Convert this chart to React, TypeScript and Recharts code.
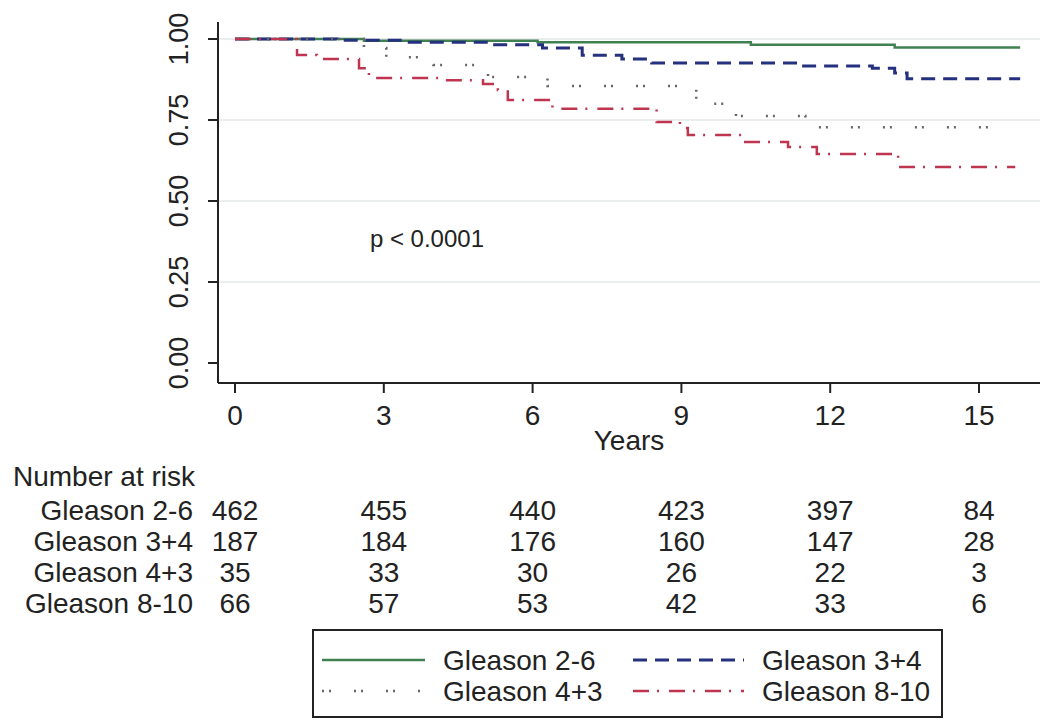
import React from 'react';
import {
  ComposedChart,
  Line,
  XAxis,
  YAxis,
  ReferenceLine,
  ReferenceDot,
  Legend,
  Label,
} from 'recharts';

const FONT = '"Liberation Sans", Arial, Helvetica, sans-serif';
const INK = '#222';
const FS = 28;

// axis ticks
const xTicks = [0, 3, 6, 9, 12, 15];
const yTicks = [0, 0.25, 0.5, 0.75, 1];
const gridY = [0.25, 0.5, 0.75, 1];

// Kaplan-Meier steps: [years, survival]
const gs26 = [
  [0, 1], [2.6, 0.995], [6.1, 0.99], [10.4, 0.982], [13.3, 0.974], [15.83, 0.974],
];
const gs34 = [
  [0, 1], [2.05, 0.996], [3.4, 0.99], [5.2, 0.982], [6.2, 0.972], [7.0, 0.95],
  [7.8, 0.938], [8.4, 0.926], [11.4, 0.917], [12.85, 0.91], [13.3, 0.895],
  [13.55, 0.877], [15.83, 0.877],
];
const gs43 = [
  [0, 1], [2.6, 0.972], [3.05, 0.944], [4.0, 0.92], [5.1, 0.883], [6.3, 0.855],
  [9.3, 0.8], [10.1, 0.762], [11.5, 0.728], [15.55, 0.728],
];
const gs810 = [
  [0, 1], [1.25, 0.951], [1.65, 0.938], [2.5, 0.91], [2.7, 0.88], [4.1, 0.873],
  [5.0, 0.861], [5.3, 0.843], [5.5, 0.812], [6.4, 0.785], [8.5, 0.744],
  [8.97, 0.725], [9.13, 0.704], [10.24, 0.682], [11.15, 0.667], [11.73, 0.645],
  [13.37, 0.605], [15.73, 0.605],
];

// number at risk at each x tick
const risk26 = [462, 455, 440, 423, 397, 84];
const risk34 = [187, 184, 176, 160, 147, 28];
const risk43 = [35, 33, 30, 26, 22, 3];
const risk810 = [66, 57, 53, 42, 33, 6];

const groupNames = ['Gleason 2-6', 'Gleason 3+4', 'Gleason 4+3', 'Gleason 8-10'];
const curves = [gs26, gs34, gs43, gs810];
const riskRows = [risk26, risk34, risk43, risk810];

const styles = [
  { color: '#3f8150', dash: undefined, width: 2.5 },
  { color: '#25307e', dash: '14 8', width: 3 },
  { color: '#666666', dash: '2 5 2 23', width: 2.5 },
  { color: '#bf3550', dash: '16 8 2 10', width: 2.5 },
];

const pText = 'p < 0.0001';
const pPos = [2.72, 0.358];

const X_DOMAIN = [-0.343, 16.23];
const Y_DOMAIN = [-0.0617, 1.0525];

const toPoints = (rows: number[][]) => rows.map(([t, s]) => ({ t, s }));

const YTick = (props: any) => {
  const { x, y, payload } = props;
  const bx = x - 20;
  return (
    <text
      x={bx}
      y={y}
      transform={`rotate(-90 ${bx} ${y})`}
      textAnchor="middle"
      fontSize={27}
      fontFamily={FONT}
      fill={INK}
    >
      {Number(payload.value).toFixed(2)}
    </text>
  );
};

const LegendBox = () => {
  const rowsY = [31, 62];
  const cols = [
    { x1: 10, x2: 113, tx: 131 },
    { x1: 321, x2: 432, tx: 450 },
  ];
  return (
    <svg width={631} height={89} style={{ display: 'block' }}>
      <rect x={1} y={1} width={629} height={87} fill="#fff" stroke={INK} strokeWidth={2} />
      {groupNames.map((name, i) => {
        const c = cols[i % 2];
        const y = rowsY[Math.floor(i / 2)];
        const st = styles[i];
        return (
          <g key={name}>
            <line
              x1={c.x1}
              x2={c.x2}
              y1={y}
              y2={y}
              stroke={st.color}
              strokeWidth={st.width}
              strokeDasharray={st.dash}
            />
            <text x={c.tx} y={y + 10} fontSize={FS} fontFamily={FONT} fill={INK}>
              {name}
            </text>
          </g>
        );
      })}
    </svg>
  );
};

export default function App() {
  return (
    <div style={{ position: 'absolute', left: 0, top: 0, background: '#fff' }}>
      <ComposedChart
        width={1050}
        height={725}
        margin={{ top: 22, right: 10, left: 0, bottom: 103 }}
      >
        {gridY.map((v) => (
          <ReferenceLine key={v} xAxisId="main" y={v} stroke="#e4e8e8" strokeWidth={1.5} />
        ))}

        <XAxis
          xAxisId="main"
          type="number"
          dataKey="t"
          domain={X_DOMAIN}
          ticks={xTicks}
          allowDataOverflow
          height={115}
          tickSize={10}
          tickMargin={12}
          axisLine={{ stroke: INK, strokeWidth: 2 }}
          tickLine={{ stroke: INK, strokeWidth: 2 }}
          tick={{ fill: INK, fontSize: FS, fontFamily: FONT }}
        >
          <Label
            content={(p: any) => (
              <text
                x={p.viewBox.x + p.viewBox.width / 2}
                y={p.viewBox.y + 67}
                textAnchor="middle"
                fontSize={FS}
                fontFamily={FONT}
                fill={INK}
              >
                Years
              </text>
            )}
          />
          <Label
            content={(p: any) => (
              <text
                x={p.viewBox.x - 205}
                y={p.viewBox.y + 103}
                fontSize={FS}
                fontFamily={FONT}
                fill={INK}
              >
                Number at risk
              </text>
            )}
          />
        </XAxis>

        {riskRows.map((row, g) => (
          <XAxis
            key={groupNames[g]}
            xAxisId={`risk${g}`}
            type="number"
            dataKey="t"
            domain={X_DOMAIN}
            ticks={xTicks}
            allowDataOverflow
            height={31}
            tickSize={0}
            tickMargin={2}
            axisLine={false}
            tickLine={false}
            interval={0}
            tickFormatter={(v: number) => String(row[xTicks.indexOf(v)])}
            tick={{ fill: INK, fontSize: FS, fontFamily: FONT }}
          >
            <Label
              content={(p: any) => (
                <text
                  x={p.viewBox.x - 25}
                  y={p.viewBox.y + 22}
                  textAnchor="end"
                  fontSize={FS}
                  fontFamily={FONT}
                  fill={INK}
                >
                  {groupNames[g]}
                </text>
              )}
            />
          </XAxis>
        ))}

        <YAxis
          type="number"
          domain={Y_DOMAIN}
          ticks={yTicks}
          allowDataOverflow
          width={218}
          tickSize={10}
          tickMargin={0}
          axisLine={{ stroke: INK, strokeWidth: 2 }}
          tickLine={{ stroke: INK, strokeWidth: 2 }}
          tick={<YTick />}
        />

        {/* invisible carriers so each risk row axis has data bound to it */}
        {riskRows.map((row, g) => (
          <Line
            key={`carrier${g}`}
            xAxisId={`risk${g}`}
            data={xTicks.map((t, i) => ({ t, n: row[i] }))}
            dataKey="n"
            stroke="none"
            dot={false}
            activeDot={false}
            legendType="none"
            isAnimationActive={false}
          />
        ))}

        {curves.map((rows, i) => (
          <Line
            key={groupNames[i]}
            xAxisId="main"
            data={toPoints(rows)}
            dataKey="s"
            name={groupNames[i]}
            type="stepAfter"
            stroke={styles[i].color}
            strokeWidth={styles[i].width}
            strokeDasharray={styles[i].dash}
            dot={false}
            activeDot={false}
            isAnimationActive={false}
          />
        ))}

        <ReferenceDot
          xAxisId="main"
          x={pPos[0]}
          y={pPos[1]}
          r={0}
          fill="none"
          stroke="none"
          label={(p: any) => (
            <text x={p.viewBox.x} y={p.viewBox.y} fontSize={24} fontFamily={FONT} fill={INK}>
              {pText}
            </text>
          )}
        />

        <Legend
          layout="horizontal"
          verticalAlign="middle"
          align="center"
          wrapperStyle={{ left: 312, top: 629, width: 631, height: 89 }}
          content={<LegendBox />}
        />
      </ComposedChart>
    </div>
  );
}
